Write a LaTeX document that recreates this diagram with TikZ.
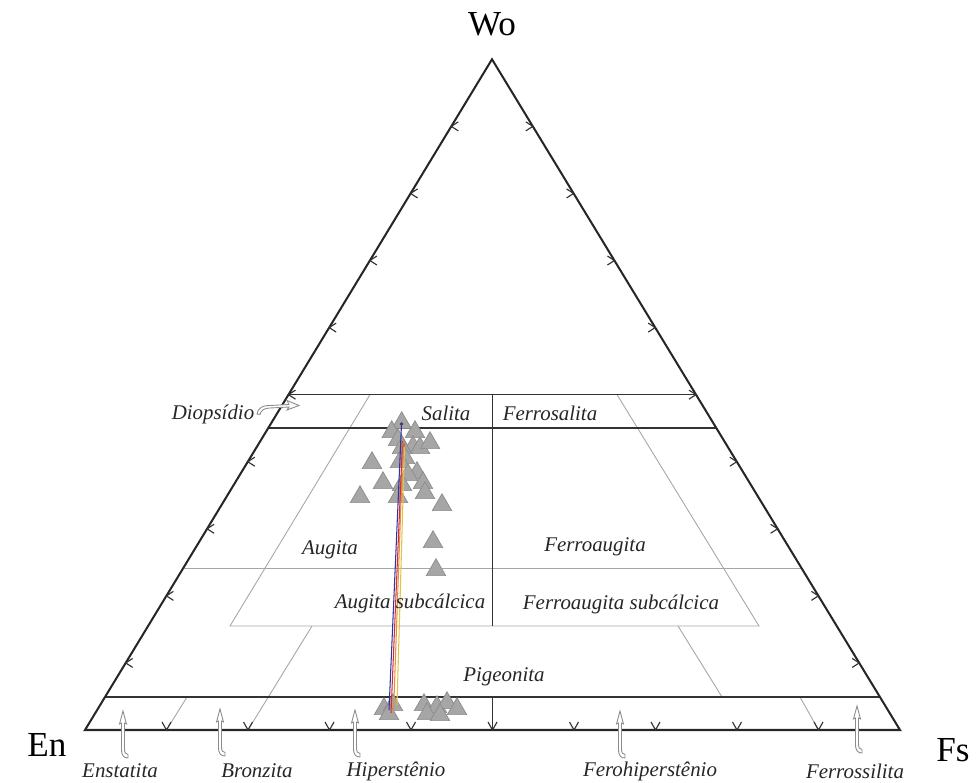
\documentclass[tikz,border=0pt]{standalone}
\usepackage{fontspec}
\setmainfont{Liberation Serif}
\usetikzlibrary{shapes.geometric}
\begin{document}
\begin{tikzpicture}[x=0.02cm,y=-0.02cm,
  edge/.style={line width=1.15pt, black!85},
  blk/.style={line width=0.8pt, black!80},
  gry/.style={line width=0.5pt, black!35},
  tck/.style={line width=0.65pt, black!80},
  lab/.style={font=\fontsize{11.9}{14}\selectfont\itshape, text=black!85, inner sep=0},
  big/.style={font=\fontsize{20}{22}\selectfont, inner sep=0},
  datapt/.style={regular polygon, regular polygon sides=3, minimum size=0.45cm, inner sep=0, fill=black!35, draw=black!45, line width=0.4pt},
  hollow/.style={draw=black!45, fill=white, line width=0.5pt},
  harrow/.pic={\path[hollow] (0,0) -- (-3.5,13) -- (-1.5,12) -- (-1.5,38) .. controls (-1.5,45) and (1,47) .. (5,47) -- (5,43.5) .. controls (2.5,43.5) and (1.5,42) .. (1.5,37) -- (1.5,12) -- (3.5,13) -- cycle;}]
\useasboundingbox (0,0) rectangle (977,783);

% vertices
\coordinate (En) at (85,730);
\coordinate (Wo) at (492,59.3);
\coordinate (Fs) at (900,730);

% gray field lines
\draw[gry] (183.3,568) -- (801.5,568);
\draw[gry] (370,394.6) -- (230,626) -- (759,626) -- (617,394.6);
\draw[gry] (312,626) -- (248,730);
\draw[gry] (187,697) -- (166.5,730);
\draw[gry] (678,626) -- (722,697);
\draw[gry] (800,697) -- (818.5,730);

% black field lines
\draw[blk] (288.5,394.6) -- (696,394.6);
\draw[blk] (268.3,428) -- (716.3,428);
\draw[blk] (105,697) -- (880,697);
\draw[blk] (492.5,394.6) -- (492.5,626);
\draw[blk] (492.5,697) -- (492.5,730);

% triangle
\draw[edge, line join=miter] (En) -- (Wo) -- (Fs) -- cycle;

% ticks
\foreach \k in {1,...,9}{
  \pgfmathsetmacro{\yy}{730-67.07*\k}
  \pgfmathsetmacro{\xl}{85+(730-\yy)*0.6068}
  \pgfmathsetmacro{\xr}{900-(730-\yy)*0.6083}
  \pgfmathsetmacro{\xb}{85+81.5*\k}
  \draw[tck] (\xl+7,\yy-4.5) -- (\xl,\yy) -- (\xl+7,\yy+4.5);
  \draw[tck] (\xr-7,\yy-4.5) -- (\xr,\yy) -- (\xr-7,\yy+4.5);
  \draw[tck] (\xb-4.5,722) -- (\xb,730) -- (\xb+4.5,722);
}

% data points
\foreach \px/\py [count=\i] in {401.7/423,391.7/432,415/432,398/440,413/447,420/448,430/443,402/448,405/458,400/462,372/463,383/483,417/473,408/475,423/483,425/493,402/485,398/497,360/497,442/505,433/542,436/570}
  \node[datapt] (t\i) at (\px,\py) {};
\foreach \px/\py [count=\i] in {384/709,393/705,389/714,424/705,437/707,447/703,457/709,427/714,440/715}
  \node[datapt] (b\i) at (\px,\py) {};

% tie lines
\coordinate (blueA) at (401.5,424);
\coordinate (blueB) at (389,710);
\coordinate (redA) at (402.5,441);
\coordinate (redB) at (391,713);
\coordinate (orA) at (403,445);
\coordinate (orB) at (393.5,713);
\coordinate (yeA) at (404.5,447);
\coordinate (yeB) at (397,705);
\draw[line width=0.6pt, color={rgb,255:red,225;green,195;blue,70}] (yeA) -- (yeB);
\draw[line width=0.6pt, color={rgb,255:red,235;green,140;blue,60}] (orA) -- (orB);
\draw[line width=0.6pt, color={rgb,255:red,205;green,50;blue,60}] (redA) -- (redB);
\draw[line width=0.6pt, color={rgb,255:red,50;green,50;blue,160}] (blueA) -- (blueB);
\fill[color={rgb,255:red,80;green,50;blue,110}] (blueA) circle (1.8);
\fill[color={rgb,255:red,200;green,110;blue,50}] (orA) circle (2.2);

% vertex labels
\node[big] (lWo) at (492,24) {Wo};
\node[big] (lEn) at (47,745) {En};
\node[big] (lFs) at (953,750) {Fs};

% field labels
\node[lab] (diop) at (213,414) {Diopsídio};
\node[lab] (sal) at (446,413) {Salita};
\node[lab] (fsal) at (550,413) {Ferrosalita};
\node[lab] (aug) at (330,550) {Augita};
\node[lab] (faug) at (595,547) {Ferroaugita};
\node[lab] (saug) at (410,603) {Augita subcálcica};
\node[lab] (sfaug) at (621,604) {Ferroaugita subcálcica};
\node[lab] (pig) at (504,677) {Pigeonita};

% Diopsidio pointer
\path[hollow] (257,414) .. controls (258,408) and (262,405.5) .. (270,405.5) -- (289,404.5) -- (287,400.5) -- (299,405.5) -- (287,410) -- (289,407) -- (270,408) .. controls (264,408) and (261,410.5) .. (260,414.5) -- cycle;

% bottom labels and pointers
\node[lab] (ens) at (120,771) {Enstatita};
\node[lab] (bro) at (257,771) {Bronzita};
\node[lab] (hip) at (396,771) {Hiperstênio};
\node[lab] (fhip) at (650,771) {Ferohiperstênio};
\node[lab] (fsil) at (855,771) {Ferrossilita};
\pic at (123,711) {harrow};
\pic at (220,709) {harrow};
\pic at (355,710) {harrow};
\pic at (620,711) {harrow};
\pic at (857,706) {harrow};
\end{tikzpicture}
\end{document}
